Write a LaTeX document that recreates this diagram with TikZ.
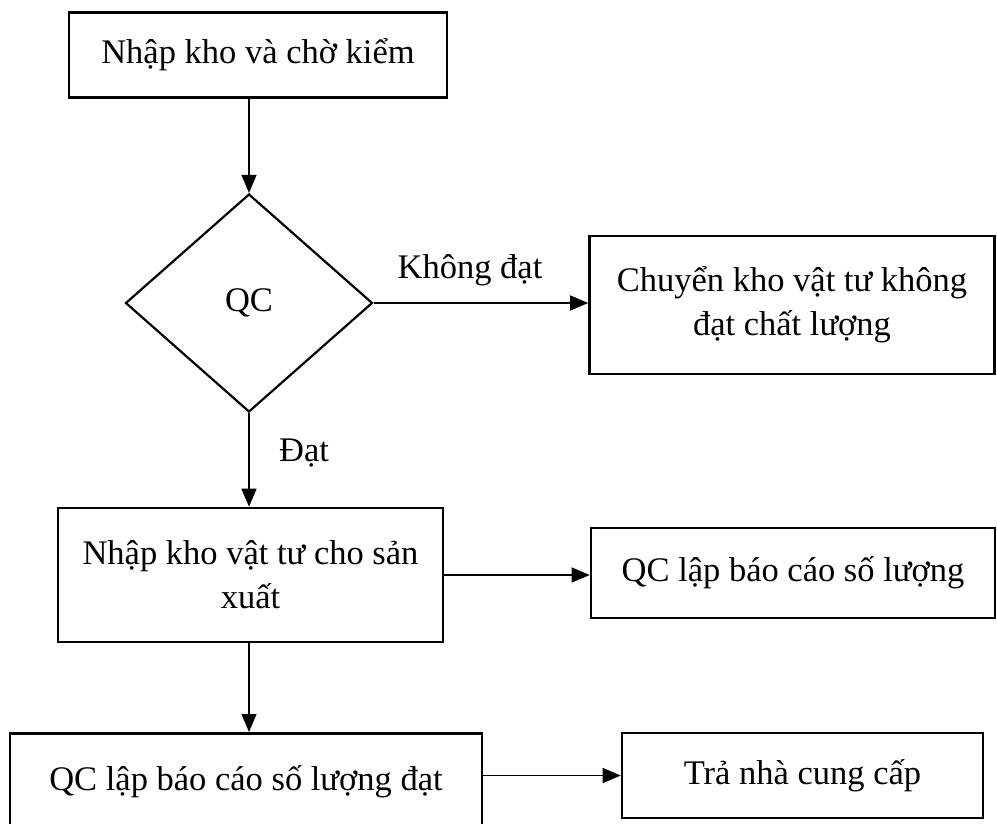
\documentclass[tikz,border=0pt]{standalone}
\usepackage{fontspec}
\setmainfont{Liberation Serif}
\usetikzlibrary{arrows.meta,shapes.geometric}

\begin{document}
\begin{tikzpicture}[
  x=1pt, y=-1pt,
  font=\fontsize{34.5}{44}\selectfont,
  stepbox/.style={draw, line width=2.6pt, rectangle, align=center, inner sep=0pt},
  decision/.style={draw, line width=2.2pt, diamond, inner sep=0pt, minimum width=247pt, minimum height=218pt},
  flow/.style={line width=1.3pt, -{Triangle[length=18pt,width=15pt]}},
  tag/.style={inner sep=0pt}
]
\useasboundingbox (0,0) rectangle (997,823);
\clip (0,0) rectangle (997,823);

% process boxes
\node[stepbox, minimum width=378pt, minimum height=85pt] (nhap) at (258,55) {Nhập kho và chờ kiểm};
\node[decision] (qc) at (249,303) {QC};
\node[stepbox, minimum width=405pt, minimum height=138pt] (loai) at (792,305) {Chuyển kho vật tư không\\đạt chất lượng};
\node[stepbox, minimum width=385pt, minimum height=134pt] (vattu) at (250.5,575) {Nhập kho vật tư cho sản\\xuất};
\node[stepbox, minimum width=404pt, minimum height=90pt] (baocao) at (793,573) {QC lập báo cáo số lượng};
% the last box runs past the lower edge of the page
\node[stepbox, minimum width=472pt, text height=57pt, text depth=41pt, anchor=north] (dat) at (246,732) {QC lập báo cáo số lượng đạt};
\node[stepbox, minimum width=361pt, minimum height=85pt] (tra) at (802.5,775.5) {Trả nhà cung cấp};

% connectors
\draw[flow] (nhap.south -| qc.north) -- (qc.north);
\draw[flow] (qc.east) -- (qc.east -| loai.west);
\draw[flow] (qc.south) -- (qc.south |- vattu.north);
\draw[flow] (vattu.east) -- (vattu.east -| baocao.west);
\draw[flow] (vattu.south -| qc.south) -- (qc.south |- dat.north);
\draw[flow] (dat.east |- tra.west) -- (tra.west);

% branch labels
\node[tag] (khongdat) at (470,270) {Không đạt};
\node[tag] (datlbl) at (304,453) {Đạt};
\end{tikzpicture}
\end{document}
